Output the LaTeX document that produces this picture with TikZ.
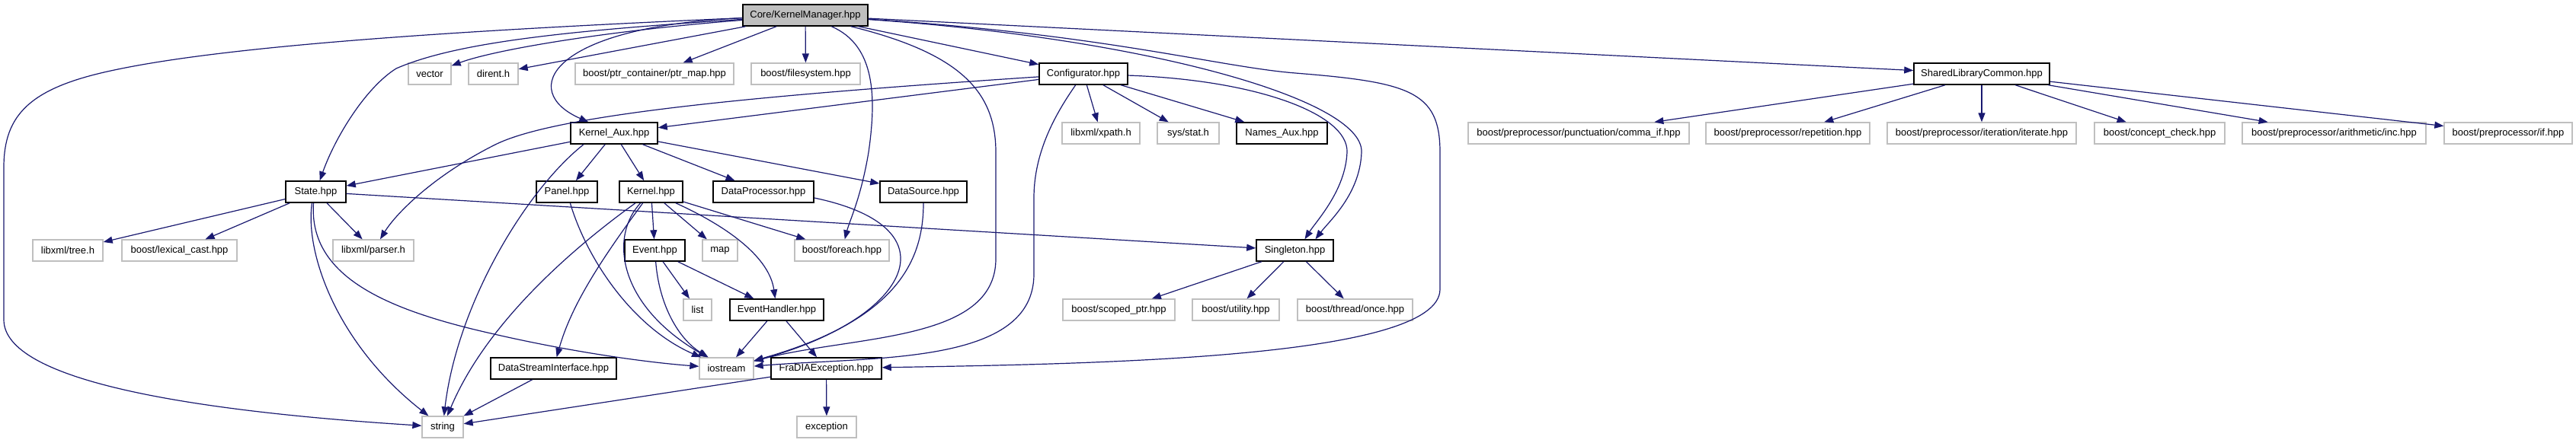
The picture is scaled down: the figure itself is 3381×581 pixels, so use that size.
\documentclass[tikz,border=0pt]{standalone}
\usepackage{fontspec}
\setmainfont{Liberation Sans}
\usetikzlibrary{arrows.meta,calc}
\definecolor{edgec}{HTML}{191970}
\definecolor{grayb}{HTML}{BFBFBF}
\definecolor{mainfill}{HTML}{BFBFBF}
\begin{document}
\begin{tikzpicture}[x=1pt,y=-1pt,
 every node/.style={font=\fontsize{13}{15}\selectfont, inner sep=0pt, minimum height=28pt},
 mainbox/.style={draw=black, fill=mainfill, line width=1.5pt},
 intbox/.style={draw=black, fill=white, line width=1.5pt},
 extbox/.style={draw=grayb, fill=white, line width=1.3pt},
 dep/.style={draw=edgec, line width=1.2pt, -{Triangle[length=12pt,width=9pt]}},
]
\fill[white] (0,0) rectangle (3381,581);
\useasboundingbox (0,0) rectangle (3381,581);

% row 0
\node[mainbox, minimum width=164pt] (KM) at (1057,20) {Core/KernelManager.hpp};
% row 1
\node[extbox, minimum width=56pt] (vector) at (564,97) {vector};
\node[extbox, minimum width=65pt] (dirent) at (647.5,97) {dirent.h};
\node[extbox, minimum width=208pt] (ptrmap) at (859,97) {boost/ptr\_container/ptr\_map.hpp};
\node[extbox, minimum width=143pt] (filesystem) at (1057.5,97) {boost/filesystem.hpp};
\node[intbox, minimum width=116pt] (Config) at (1422,97) {Configurator.hpp};
\node[intbox, minimum width=178pt] (SLC) at (2601,97) {SharedLibraryCommon.hpp};
% row 2
\node[intbox, minimum width=114pt] (KA) at (806,175) {Kernel\_Aux.hpp};
\node[extbox, minimum width=102pt] (xpath) at (1445,175) {libxml/xpath.h};
\node[extbox, minimum width=81pt] (stat) at (1559.5,175) {sys/stat.h};
\node[intbox, minimum width=119pt] (NamesAux) at (1682.5,175) {Names\_Aux.hpp};
\node[extbox, minimum width=290pt] (comma) at (2072,175) {boost/preprocessor/punctuation/comma\_if.hpp};
\node[extbox, minimum width=215pt] (repet) at (2346.5,175) {boost/preprocessor/repetition.hpp};
\node[extbox, minimum width=248pt] (iterate) at (2601,175) {boost/preprocessor/iteration/iterate.hpp};
\node[extbox, minimum width=171pt] (concept) at (2834.5,175) {boost/concept\_check.hpp};
\node[extbox, minimum width=241pt] (inc) at (3063.5,175) {boost/preprocessor/arithmetic/inc.hpp};
\node[extbox, minimum width=168pt] (pif) at (3292,175) {boost/preprocessor/if.hpp};
% row 3
\node[intbox, minimum width=79pt] (State) at (414.5,252) {State.hpp};
\node[intbox, minimum width=80pt] (Panel) at (744,252) {Panel.hpp};
\node[intbox, minimum width=83pt] (Kernel) at (854.5,252) {Kernel.hpp};
\node[intbox, minimum width=132pt] (DP) at (1002,252) {DataProcessor.hpp};
\node[intbox, minimum width=114pt] (DS) at (1212,252) {DataSource.hpp};
% row 4
\node[extbox, minimum width=92pt] (tree) at (89,329) {libxml/tree.h};
\node[extbox, minimum width=151pt] (lexcast) at (235.5,329) {boost/lexical\_cast.hpp};
\node[extbox, minimum width=106pt] (parser) at (490,329) {libxml/parser.h};
\node[intbox, minimum width=79pt] (Event) at (859.5,329) {Event.hpp};
\node[extbox, minimum width=46pt] (map) at (945,329) {map};
\node[extbox, minimum width=124pt] (foreach) at (1105,329) {boost/foreach.hpp};
\node[intbox, minimum width=101pt] (Singleton) at (1699.5,329) {Singleton.hpp};
% row 5
\node[extbox, minimum width=37pt] (list) at (915.5,407) {list};
\node[intbox, minimum width=123pt] (EH) at (1019.5,407) {EventHandler.hpp};
\node[extbox, minimum width=147pt] (scoped) at (1468.5,407) {boost/scoped\_ptr.hpp};
\node[extbox, minimum width=114pt] (utility) at (1622,407) {boost/utility.hpp};
\node[extbox, minimum width=151pt] (once) at (1778.5,407) {boost/thread/once.hpp};
% row 6
\node[intbox, minimum width=165pt] (DSI) at (726.5,484) {DataStreamInterface.hpp};
\node[extbox, minimum width=71pt] (iostream) at (953.5,484) {iostream};
\node[intbox, minimum width=145pt] (FraDIA) at (1084.5,484) {FraDIAException.hpp};
% row 7
\node[extbox, minimum width=54pt] (string) at (581,561) {string};
\node[extbox, minimum width=78pt] (exception) at (1085,561) {exception};

% KernelManager
\draw[dep] (KM) .. controls (600,40) and (300,60) .. (150,92) .. controls (40,115) and (5,150) .. (5,220) -- (5,420) .. controls (5,500) and (250,540) .. (string);
\draw[dep] (KM) .. controls (750,40) and (600,55) .. (520,90) .. controls (480,115) and (440,180) .. (State);
\draw[dep] (KM) .. controls (800,40) and (650,65) .. (vector);
\draw[dep] (KM) -- (dirent);
\draw[dep] (KM) .. controls (720,35) and (680,120) .. (KA);
\draw[dep] (KM) -- (ptrmap);
\draw[dep] (KM) -- (filesystem);
\draw[dep] (KM) .. controls (1150,60) and (1150,130) .. (1140,200) .. controls (1130,260) and (1115,290) .. (foreach);
\draw[dep] (KM) .. controls (1260,70) and (1307,120) .. (1307,200) -- (1307,340) .. controls (1307,450) and (1120,440) .. (iostream);
\draw[dep] (KM) -- (Config);
\draw[dep] (KM) .. controls (1500,50) and (1790,130) .. (1787,200) .. controls (1785,255) and (1745,290) .. ($(Singleton.north)+(27,0)$);
\draw[dep] (KM) .. controls (1450,45) and (1600,88) .. (1700,96) .. controls (1850,108) and (1890,120) .. (1890,200) -- (1890,380) .. controls (1890,470) and (1450,478) .. (FraDIA);
\draw[dep] (KM) -- (SLC);

% Configurator
\draw[dep] (Config) -- (KA);
\draw[dep] (Config) .. controls (1000,125) and (730,150) .. (650,190) .. controls (570,230) and (520,280) .. (parser);
\draw[dep] (Config) -- (xpath);
\draw[dep] (Config) -- (stat);
\draw[dep] (Config) -- (NamesAux);
\draw[dep] (Config) .. controls (1650,105) and (1770,150) .. (1768,200) .. controls (1766,250) and (1728,290) .. ($(Singleton.north)+(13,0)$);
\draw[dep] (Config) .. controls (1385,150) and (1357,200) .. (1357,260) -- (1357,360) .. controls (1357,480) and (1150,468) .. (iostream);

% Kernel_Aux
\draw[dep] (KA) -- (State);
\draw[dep] ($(KA.south)+(-40,0)$) .. controls (690,250) and (600,400) .. (string);
\draw[dep] (KA) -- (Panel);
\draw[dep] (KA) -- (Kernel);
\draw[dep] (KA) -- (DP);
\draw[dep] (KA) -- (DS);

% State
\draw[dep] (State) -- (tree);
\draw[dep] (State) -- (lexcast);
\draw[dep] (State) -- (parser);
\draw[dep] ($(State.south)+(-5,0)$) .. controls (400,330) and (440,450) .. (string);
\draw[dep] ($(State.south)+(-3,0)$) .. controls (405,360) and (500,405) .. (640,437) .. controls (760,465) and (860,477) .. (iostream);
\draw[dep] (State) -- (Singleton);

% Panel
\draw[dep] (Panel) .. controls (770,340) and (830,430) .. (iostream);

% Kernel
\draw[dep] (Kernel) .. controls (790,340) and (750,400) .. (DSI);
\draw[dep] (Kernel) .. controls (760,320) and (640,420) .. (string);
\draw[dep] (Kernel) .. controls (800,310) and (810,400) .. (iostream);
\draw[dep] (Kernel) -- (Event);
\draw[dep] (Kernel) -- (map);
\draw[dep] (Kernel) .. controls (960,300) and (1010,340) .. (EH);
\draw[dep] (Kernel) -- (foreach);

% DataProcessor, DataSource
\draw[dep] ($(DP.east)+(0,8)$) .. controls (1260,300) and (1190,420) .. (iostream);
\draw[dep] (DS) .. controls (1212,340) and (1180,420) .. (iostream);

% Event, EventHandler
\draw[dep] (Event) -- (list);
\draw[dep] (Event) -- (EH);
\draw[dep] (Event) .. controls (865,400) and (890,445) .. (iostream);
\draw[dep] (EH) -- (iostream);
\draw[dep] (EH) -- (FraDIA);

% DataStreamInterface, FraDIAException
\draw[dep] (DSI) -- (string);
\draw[dep] (FraDIA) -- (string);
\draw[dep] (FraDIA) -- (exception);

% Singleton
\draw[dep] (Singleton) -- (scoped);
\draw[dep] (Singleton) -- (utility);
\draw[dep] (Singleton) -- (once);

% SharedLibraryCommon
\draw[dep] (SLC) -- (comma);
\draw[dep] (SLC) -- (repet);
\draw[dep] (SLC) -- (iterate);
\draw[dep] (SLC) -- (concept);
\draw[dep] (SLC) -- (inc);
\draw[dep] (SLC) -- (pif);
\end{tikzpicture}
\end{document}
